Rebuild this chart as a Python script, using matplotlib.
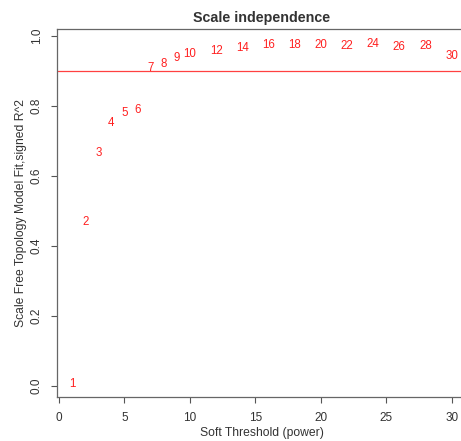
import matplotlib
matplotlib.use("Agg")
import matplotlib.pyplot as plt

plt.rcParams['font.family'] = ['Liberation Sans', 'DejaVu Sans']

powers = [1, 2, 3, 4, 5, 6, 7, 8, 9, 10, 12, 14, 16, 18, 20, 22, 24, 26, 28, 30]
fit_r2 = [0.005, 0.469, 0.665, 0.752, 0.781, 0.789, 0.909, 0.920, 0.938, 0.950,
          0.958, 0.965, 0.974, 0.976, 0.976, 0.972, 0.978, 0.970, 0.972, 0.944]
cutoff = 0.90
x_ticks = [0, 5, 10, 15, 20, 25, 30]
y_ticks = [0.0, 0.2, 0.4, 0.6, 0.8, 1.0]

fig = plt.figure(figsize=(4.61, 4.41), dpi=100)
ax = fig.add_axes([0.1236, 0.0998, 0.889, 0.834])

for p, v in zip(powers, fit_r2):
    ax.text(p, v, str(p), color='#ff2020', fontsize=8.3, ha='center', va='center')

ax.axhline(cutoff, color='#ff4040', linewidth=0.9)

ax.set_xlim(-0.16, 31.16)
ax.set_ylim(-0.031, 1.02)
ax.set_xticks(x_ticks)
ax.set_yticks(y_ticks)
ax.set_xticklabels([str(t) for t in x_ticks])
ax.set_yticklabels(['%.1f' % t for t in y_ticks], rotation=90, va='center')
ax.tick_params(direction='out', length=4.3, width=0.8, colors='#555555',
               labelcolor='#333333', labelsize=8.5)
ax.tick_params(axis='x', pad=6.5)
ax.tick_params(axis='y', pad=6)
for s in ax.spines.values():
    s.set_color('#666666')
    s.set_linewidth(0.9)

ax.set_xlabel('Soft Threshold (power)', fontsize=8.7, color='#333333', labelpad=2)
ax.set_ylabel('Scale Free Topology Model Fit,signed R^2', fontsize=8.7, color='#333333', labelpad=3)
ax.set_title('Scale independence', fontsize=10.3, fontweight='bold', color='#333333', pad=5)

fig.savefig('out.png', dpi=100)
